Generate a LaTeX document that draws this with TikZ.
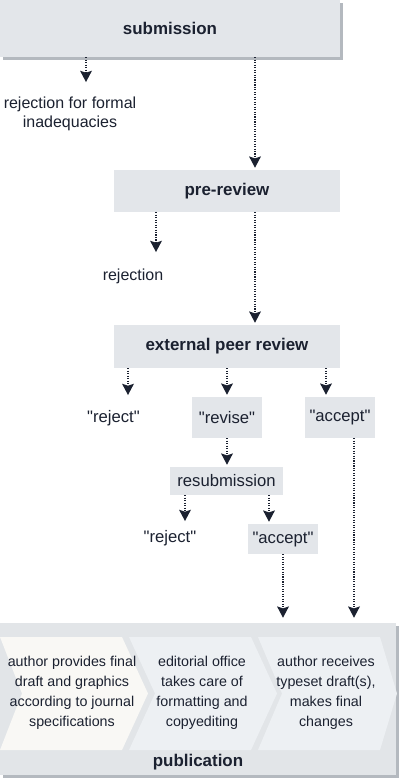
\documentclass[tikz,border=0pt]{standalone}
\usepackage{fontspec}
\setmainfont{Liberation Sans}[Ligatures=TeXOff]
\usepackage{xcolor}
\usetikzlibrary{arrows.meta,shadows}

\definecolor{boxgrey}{HTML}{E3E6EA}
\definecolor{shadowgrey}{HTML}{B4B9BF}
\definecolor{inkdark}{HTML}{1B2130}
\definecolor{pubgrey}{HTML}{E2E5E8}
\definecolor{stepcream}{HTML}{F9F8F5}
\definecolor{steplight}{HTML}{EDF0F3}

\begin{document}
\begin{tikzpicture}[x=0.75pt,y=-0.75pt,
	stage/.style={fill=boxgrey, inner sep=0pt, text=inkdark, font=\fontsize{12.7}{15}\bfseries},
	verdict/.style={fill=boxgrey, inner sep=0pt, text=inkdark, font=\fontsize{12.5}{15}\selectfont},
	outcome/.style={text=inkdark, align=center, inner sep=0pt, font=\fontsize{12}{14.25}\selectfont},
	steptext/.style={text=inkdark, align=center, inner sep=0pt, font=\fontsize{10.7}{15}\selectfont},
	lift/.style={drop shadow={shadow xshift=2.25pt, shadow yshift=-2.25pt, fill=shadowgrey, opacity=1}},
	flow/.style={densely dotted, line width=0.85pt, draw=inkdark, shorten >=1.5pt,
		-{Stealth[length=8.5pt, width=9pt, inset=1.5pt, line width=0pt, fill=inkdark, sep=0pt]}}]
	\useasboundingbox (0,0) rectangle (400,783);

	% boxes
	\node[stage, lift, minimum width=255pt, minimum height=42.75pt] (submission) at (170,28.5) {submission};
	\node[stage, minimum width=169.5pt, minimum height=31.5pt] (prereview) at (227,191) {pre-review};
	\node[stage, minimum width=169.5pt, minimum height=32.25pt] (peerreview) at (227,346.5) {external peer review};
	\node[verdict, minimum width=52.5pt, minimum height=30.75pt] (revise) at (227,417.5) {"revise"};
	\node[verdict, minimum width=52.5pt, minimum height=30.75pt] (accept) at (340,417.5) {"accept"};
	\node[verdict, minimum width=84.75pt, minimum height=21pt] (resub) at (226.5,481) {resubmission};
	\node[verdict, minimum width=52.5pt, minimum height=22.5pt] (reaccept) at (283,539) {"accept"};

	% texts without box
	\node[outcome] (rejformal) at (70,113.5) {rejection for formal\\inadequacies};
	\node[outcome] (rejection) at (133,276) {rejection};
	\node[outcome, font=\fontsize{12.5}{15}\selectfont] (reject) at (113.5,418) {"reject"};
	\node[outcome, font=\fontsize{12.5}{15}\selectfont] (rereject) at (170,538) {"reject"};

	% publication
	\node[fill=pubgrey, lift, inner sep=0pt, minimum width=297pt, minimum height=114pt] (pub) at (198,699) {};
	\fill[stepcream] (0,637) -- (122,637) -- (148,693.5) -- (122,750) -- (0,750) -- (22,693.5) -- cycle;
	\fill[steplight] (129,637) -- (251,637) -- (277,693.5) -- (251,750) -- (129,750) -- (155,693.5) -- cycle;
	\fill[steplight] (258,637) -- (380,637) -- (397,693.5) -- (380,750) -- (258,750) -- (282,693.5) -- cycle;
	\node[steptext] (final) at (72,693) {author provides final\\draft and graphics\\according to journal\\specifications};
	\node[steptext] (office) at (202,693) {editorial office\\takes care of\\formatting and\\copyediting};
	\node[steptext] (proofs) at (326,693) {author receives\\typeset draft(s),\\makes final\\changes};
	\node[stage, fill=none] (publabel) at (198,762) {publication};

	% free ends
	\coordinate (e1) at (86,84);
	\coordinate (e2) at (156,254);
	\coordinate (e3) at (128,397);
	\coordinate (e4) at (185,523);

	% connectors
	\draw[flow] (submission.south -| e1) -- (e1);
	\draw[flow] (submission.south -| 255,0) -- (prereview.north -| 255,0);
	\draw[flow] (prereview.south -| e2) -- (e2);
	\draw[flow] (prereview.south -| 255,0) -- (peerreview.north -| 255,0);
	\draw[flow] (peerreview.south -| e3) -- (e3);
	\draw[flow] (peerreview.south -| revise) -- (revise.north);
	\draw[flow] (peerreview.south -| 326,0) -- (accept.north -| 326,0);
	\draw[flow] (revise.south) -- (resub.north -| revise.south);
	\draw[flow] (resub.south -| e4) -- (e4);
	\draw[flow] (resub.south -| 269,0) -- (reaccept.north -| 269,0);
	\draw[flow] (reaccept.south) -- ([yshift=2.25pt]pub.north -| reaccept.south);
	\draw[flow] (accept.south -| 354,0) -- ([yshift=2.25pt]pub.north -| 354,0);
\end{tikzpicture}
\end{document}
